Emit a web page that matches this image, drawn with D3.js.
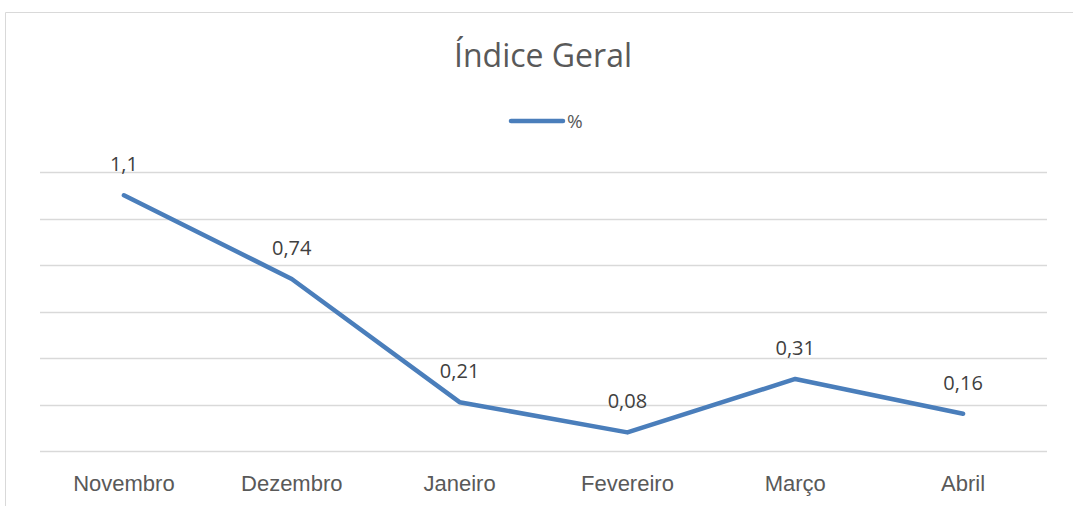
<!DOCTYPE html>
<html>
<head>
<meta charset="utf-8">
<script src="https://cdn.jsdelivr.net/npm/d3@7"></script>
<style>
	body { margin: 0; background: #fff; }
	svg { display: block; font-family: "Open Sans", "Noto Sans", sans-serif; }
</style>
</head>
<body>
<svg id="chart" width="1073" height="506"></svg>
<script>
var months = ['Novembro', 'Dezembro', 'Janeiro', 'Fevereiro', 'Março', 'Abril'];
var values = [1.1, 0.74, 0.21, 0.08, 0.31, 0.16];
var labels = ['1,1', '0,74', '0,21', '0,08', '0,31', '0,16'];
var gridTicks = [0, 0.2, 0.4, 0.6, 0.8, 1.0, 1.2];

var W = 1073, H = 506;
var lineColor = '#4a7ebb';

var svg = d3.select('#chart');

// chart frame (only top and left edges visible)
svg.append('path')
	.attr('d', 'M5.5,' + H + 'V12.5H' + W)
	.attr('fill', 'none')
	.attr('stroke', '#d9d9d9')
	.attr('stroke-width', 1);

var x = d3.scaleBand()
	.domain(months)
	.range([40, 1047]);

var y = d3.scaleLinear()
	.domain([0, 1.2])
	.range([451, 172]);

// gridlines
svg.append('g')
	.selectAll('line')
	.data(gridTicks)
	.enter()
	.append('line')
	.attr('x1', 40)
	.attr('x2', 1047)
	.attr('y1', d => Math.round(y(d)) + 0.5)
	.attr('y2', d => Math.round(y(d)) + 0.5)
	.attr('stroke', '#d9d9d9')
	.attr('stroke-width', 1.3);

// category axis
var xAxis = svg.append('g')
	.attr('transform', 'translate(0,451)')
	.call(d3.axisBottom(x).tickSize(0).tickPadding(24));
xAxis.select('.domain').remove();
xAxis.selectAll('text')
	.attr('fill', '#595959')
	.style('font-size', '22px');

// line
var line = d3.line()
	.x((d, i) => x(months[i]) + x.bandwidth() / 2)
	.y(d => y(d));

svg.append('path')
	.datum(values)
	.attr('d', line)
	.attr('fill', 'none')
	.attr('stroke', lineColor)
	.attr('stroke-width', 4.5)
	.attr('stroke-linejoin', 'round')
	.attr('stroke-linecap', 'round');

// data labels
svg.append('g')
	.selectAll('text')
	.data(values)
	.enter()
	.append('text')
	.attr('x', (d, i) => x(months[i]) + x.bandwidth() / 2)
	.attr('y', d => y(d) - 24)
	.attr('text-anchor', 'middle')
	.attr('fill', '#404040')
	.style('font-size', '20px')
	.text((d, i) => labels[i]);

// title
svg.append('text')
	.attr('x', 543)
	.attr('y', 67)
	.attr('text-anchor', 'middle')
	.attr('fill', '#595959')
	.style('font-size', '32px')
	.text('Índice Geral');

// legend
svg.append('line')
	.attr('x1', 511)
	.attr('x2', 563)
	.attr('y1', 121)
	.attr('y2', 121)
	.attr('stroke', lineColor)
	.attr('stroke-width', 4.5)
	.attr('stroke-linecap', 'round');

svg.append('text')
	.attr('x', 567)
	.attr('y', 128)
	.attr('fill', '#595959')
	.style('font-size', '19px')
	.text('%');
</script>
</body>
</html>
